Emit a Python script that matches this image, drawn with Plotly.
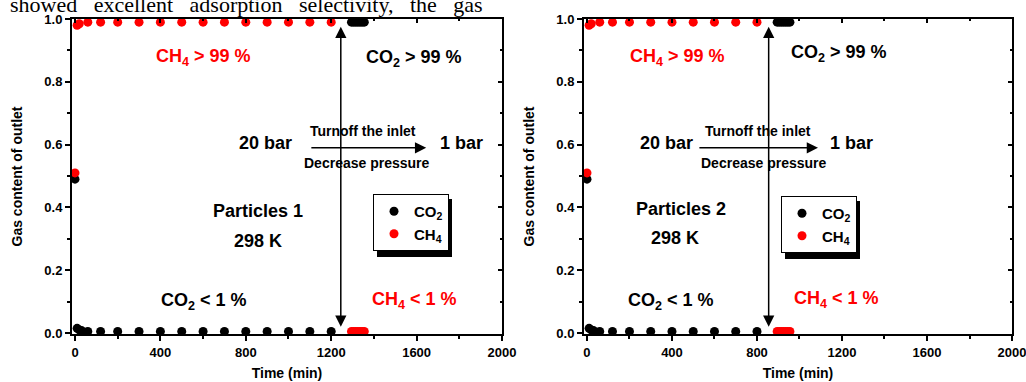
import plotly.graph_objects as go

# ---------------- data ----------------
# Panel 1 (Particles 1)
time_co2_p1 = [0, 10, 20, 30, 60, 120, 200, 300, 400, 500, 600, 700, 800, 900, 1000, 1100, 1200,
               1295, 1305, 1315, 1325, 1335, 1345, 1355]
co2_p1 = [0.49, 0.015, 0.01, 0.008, 0.005, 0.005, 0.005, 0.005, 0.005, 0.005, 0.005, 0.005, 0.005,
          0.005, 0.005, 0.005, 0.005,
          0.99, 0.99, 0.99, 0.99, 0.99, 0.99, 0.99]
time_ch4_p1 = [0, 10, 20, 60, 120, 200, 300, 400, 500, 600, 700, 800, 900, 1000, 1100, 1200,
               1295, 1305, 1315, 1325, 1335, 1345, 1355]
ch4_p1 = [0.51, 0.98, 0.985, 0.99, 0.99, 0.99, 0.99, 0.99, 0.99, 0.99, 0.99, 0.99, 0.99, 0.99, 0.99, 0.99,
          0.005, 0.005, 0.005, 0.005, 0.005, 0.005, 0.005]

# Panel 2 (Particles 2)
time_co2_p2 = [0, 10, 20, 30, 60, 120, 200, 300, 400, 500, 600, 700, 800,
               895, 905, 915, 925, 935, 945, 955]
co2_p2 = [0.49, 0.015, 0.01, 0.008, 0.005, 0.005, 0.005, 0.005, 0.005, 0.005, 0.005, 0.005, 0.005,
          0.99, 0.99, 0.99, 0.99, 0.99, 0.99, 0.99]
time_ch4_p2 = [0, 10, 20, 60, 120, 200, 300, 400, 500, 600, 700, 800,
               895, 905, 915, 925, 935, 945, 955]
ch4_p2 = [0.51, 0.98, 0.985, 0.99, 0.99, 0.99, 0.99, 0.99, 0.99, 0.99, 0.99, 0.99,
          0.005, 0.005, 0.005, 0.005, 0.005, 0.005, 0.005]

x_ticks = [0, 400, 800, 1200, 1600, 2000]
y_ticks = [0.0, 0.2, 0.4, 0.6, 0.8, 1.0]
series_names = ["CO<sub>2</sub>", "CH<sub>4</sub>"]

# ---------------- style ----------------
FONT = "Liberation Sans, Arial, sans-serif"
RED = "rgb(255,0,0)"
X_RANGE = [-14, 2000]
Y_RANGE = [-0.003, 1.0]

fig = go.Figure()

def add_panel(tx_co2, v_co2, tx_ch4, v_ch4, xa, ya, leg):
    fig.add_trace(go.Scatter(x=tx_co2, y=v_co2, mode="markers", name=series_names[0],
                             marker=dict(color="black", size=9), xaxis=xa, yaxis=ya, legend=leg))
    fig.add_trace(go.Scatter(x=tx_ch4, y=v_ch4, mode="markers", name=series_names[1],
                             marker=dict(color=RED, size=9), xaxis=xa, yaxis=ya, legend=leg))

add_panel(time_co2_p1, co2_p1, time_ch4_p1, ch4_p1, "x", "y", "legend")
add_panel(time_co2_p2, co2_p2, time_ch4_p2, ch4_p2, "x2", "y2", "legend2")

# empty traces so the mirrored (inside-tick) axes are drawn
fig.add_trace(go.Scatter(x=[], y=[], xaxis="x3", yaxis="y3", showlegend=False, hoverinfo="skip"))
fig.add_trace(go.Scatter(x=[], y=[], xaxis="x4", yaxis="y4", showlegend=False, hoverinfo="skip"))

L, R, T, B = 72, 14, 19, 48
W, H = 1026, 382
PW = W - L - R
PH = H - T - B

def px_x(p):
    return (p - L) / PW

def px_y(p):
    return (H - B - p) / PH

tickfont = dict(family=FONT, size=13, color="black", weight="bold")
titlefont = dict(family=FONT, size=14, color="black", weight="bold")

def xaxis_main(domain, anchor):
    return dict(domain=domain, anchor=anchor, range=X_RANGE, tickvals=x_ticks,
                ticks="outside", ticklen=5, tickwidth=1.5, tickcolor="black",
                minor=dict(dtick=200, tick0=0, ticks="outside", ticklen=3, tickwidth=1.5, tickcolor="black"),
                showline=True, linecolor="black", linewidth=2, mirror=True,
                showgrid=False, zeroline=False, tickfont=tickfont, ticklabeloverflow="allow",
                title=dict(text="Time (min)", font=titlefont, standoff=10))

def yaxis_main(anchor):
    return dict(domain=[0, 1], anchor=anchor, range=Y_RANGE, tickvals=y_ticks, tickformat=".1f",
                ticks="outside", ticklen=5, tickwidth=1.5, tickcolor="black",
                minor=dict(dtick=0.1, tick0=0, ticks="outside", ticklen=3, tickwidth=1.5, tickcolor="black"),
                showline=True, linecolor="black", linewidth=2, mirror=True,
                showgrid=False, zeroline=False, tickfont=tickfont, ticklabeloverflow="allow",
                title=dict(text="Gas content of outlet", font=titlefont, standoff=18))

def xaxis_top(over, anchor):
    return dict(overlaying=over, anchor=anchor, side="top", range=X_RANGE, tickvals=x_ticks,
                ticks="inside", ticklen=4, tickwidth=1.5, tickcolor="black",
                minor=dict(dtick=200, tick0=0, ticks="inside", ticklen=2, tickwidth=1.5, tickcolor="black"),
                showticklabels=False, showline=False, showgrid=False, zeroline=False)

def yaxis_right(over, anchor):
    return dict(overlaying=over, anchor=anchor, side="right", range=Y_RANGE, tickvals=y_ticks,
                ticks="inside", ticklen=4, tickwidth=1.5, tickcolor="black",
                minor=dict(dtick=0.1, tick0=0, ticks="inside", ticklen=2, tickwidth=1.5, tickcolor="black"),
                showticklabels=False, showline=False, showgrid=False, zeroline=False)

dom1 = [0, px_x(502)]
dom2 = [px_x(584), 1]

legend_common = dict(bgcolor="white", bordercolor="black", borderwidth=1,
                     font=dict(family=FONT, size=15, color="black", weight="bold"),
                     xanchor="left", yanchor="top", tracegroupgap=0)

fig.update_layout(
    width=W, height=H, margin=dict(l=L, r=R, t=T, b=B, autoexpand=False),
    paper_bgcolor="white", plot_bgcolor="white",
    font=dict(family=FONT, color="black", weight="bold"),
    xaxis=xaxis_main(dom1, "y"), yaxis=yaxis_main("x"),
    xaxis2=xaxis_main(dom2, "y2"), yaxis2=yaxis_main("x2"),
    xaxis3=xaxis_top("x", "y"), yaxis3=yaxis_right("y", "x"),
    xaxis4=xaxis_top("x2", "y2"), yaxis4=yaxis_right("y2", "x2"),
    legend=dict(x=px_x(373), y=px_y(194), **legend_common),
    legend2=dict(x=px_x(781), y=px_y(196), **legend_common),
)

# legend drop shadows (offset behind the legend boxes)
for (x0, y0, x1, y1) in [(377, 199, 452, 257), (785, 201, 860, 259)]:
    fig.add_shape(type="rect", xref="paper", yref="paper",
                  x0=px_x(x0), x1=px_x(x1), y0=px_y(y1), y1=px_y(y0),
                  fillcolor="black", line=dict(width=0), layer="above")

big = dict(family=FONT, size=18, weight="bold")
small = dict(family=FONT, size=14, weight="bold")

def label(text, x, y, xref, yref, font, color="black"):
    fig.add_annotation(text=text, x=x, y=y, xref=xref, yref=yref, showarrow=False,
                       font=dict(color=color, **font), xanchor="center", yanchor="middle")

panels = [
    dict(xr="x", yr="y", name="Particles 1",
         ch4_hi=(604, 0.879), co2_hi=(1588, 0.873), bar20=(890, 0.605), bar1=(1812, 0.605),
         turn=(1348, 0.643), dec=(1366, 0.541), part=(857, 0.389), temp=(857, 0.293),
         co2_lo=(604, 0.099), ch4_lo=(1592, 0.105),
         varrow=1245, harrow=(1100, 1645, 0.59)),
    dict(xr="x2", yr="y2", name="Particles 2",
         ch4_hi=(428, 0.879), co2_hi=(1187, 0.89), bar20=(372, 0.605), bar1=(1247, 0.605),
         turn=(805, 0.643), dec=(833, 0.541), part=(442, 0.395), temp=(414, 0.302),
         co2_lo=(395, 0.099), ch4_lo=(1176, 0.108),
         varrow=855, harrow=(522, 1087, 0.59)),
]

for p in panels:
    xr, yr = p["xr"], p["yr"]
    label("CH<sub>4</sub> &gt; 99 %", *p["ch4_hi"], xr, yr, big, RED)
    label("CO<sub>2</sub> &gt; 99 %", *p["co2_hi"], xr, yr, big)
    label("20 bar", *p["bar20"], xr, yr, big)
    label("1 bar", *p["bar1"], xr, yr, big)
    label("Turnoff the inlet", *p["turn"], xr, yr, small)
    label("Decrease pressure", *p["dec"], xr, yr, small)
    label(p["name"], *p["part"], xr, yr, big)
    label("298 K", *p["temp"], xr, yr, big)
    label("CO<sub>2</sub> &lt; 1 %", *p["co2_lo"], xr, yr, big)
    label("CH<sub>4</sub> &lt; 1 %", *p["ch4_lo"], xr, yr, big, RED)
    # vertical double arrow
    fig.add_annotation(x=p["varrow"], y=0.02, ax=p["varrow"], ay=0.98, xref=xr, yref=yr,
                       axref=xr, ayref=yr, text="", showarrow=True, arrowhead=2,
                       arrowside="end+start", arrowsize=1.5, arrowwidth=1.5, arrowcolor="black")
    # horizontal arrow
    x0, x1, yy = p["harrow"]
    fig.add_annotation(x=x1, y=yy, ax=x0, ay=yy, xref=xr, yref=yr, axref=xr, ayref=yr,
                       text="", showarrow=True, arrowhead=2, arrowsize=1.5, arrowwidth=1.5,
                       arrowcolor="black")

# clipped line of body text from the source page at the very top
fig.add_annotation(text="showed&nbsp;&nbsp;&nbsp;excellent&nbsp;&nbsp;&nbsp;adsorption&nbsp;&nbsp;&nbsp;selectivity,&nbsp;&nbsp;&nbsp;the&nbsp;&nbsp;&nbsp;gas",
                   xref="paper", yref="paper", x=px_x(8), y=px_y(4.4), xanchor="left", yanchor="middle",
                   showarrow=False, font=dict(family="Liberation Serif, Times New Roman, serif", size=22,
                                              color="black", weight="normal"))

fig.write_html("out.html", config={"displayModeBar": False},
               post_script="document.body.style.margin='0px';")
